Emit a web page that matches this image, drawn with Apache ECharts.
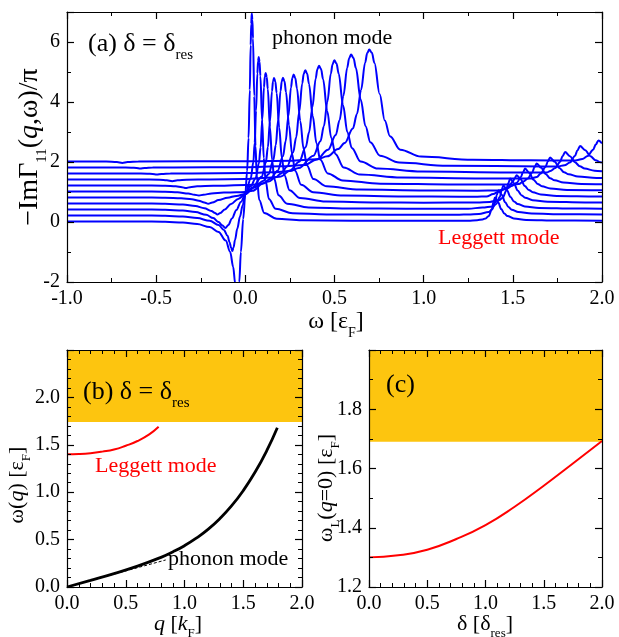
<!DOCTYPE html>
<html>
<head>
<meta charset="utf-8">
<script src="https://cdn.jsdelivr.net/npm/echarts@6/dist/echarts.min.js"></script>
<style>
html, body { margin: 0; padding: 0; background: #fff; }
#main { width: 619px; height: 637px; }
</style>
</head>
<body>
<div id="main"></div>
<script>
// panel (a): -Im Gamma11(q,w)/pi, one curve per q, offset by 0.2 each
var gam0 = [[-1,0.02],[-0.6,0.02],[-0.45,0.01],[-0.35,-0.02],[-0.27,-0.07],[-0.2,-0.17],[-0.15,-0.33],[-0.11,-0.62],[-0.085,-1.0],[-0.068,-1.5],[-0.057,-2.05],[-0.05,-2.6],[-0.045,-2.9],[-0.04,-2.6],[-0.034,-2.0],[-0.025,-1.0],[-0.012,0.1],[0,0.93],[0.01,1.7],[0.018,2.8],[0.025,4.4],[0.03,5.9],[0.033,6.6],[0.036,6.95],[0.0395,6.74],[0.043,6.12],[0.05,4.19],[0.057,2.53],[0.064,1.56],[0.078,0.73],[0.106,0.3],[0.176,0.108],[0.316,0.057],[0.6,0.045],[1.0,0.04],[1.25,0.045],[1.3,0.06],[1.33,0.086],[1.3475,0.12],[1.365,0.2],[1.3825,0.43],[1.391,0.66],[1.4,0.82],[1.4175,0.66],[1.435,0.43],[1.4525,0.28],[1.47,0.2],[1.505,0.12],[1.575,0.07],[1.75,0.048],[2.0,0.04]];
var gam1 = [[-1,0.22],[-0.6,0.22],[-0.45,0.21],[-0.35,0.18],[-0.27,0.13],[-0.2,0.04],[-0.15,-0.1],[-0.12,-0.27],[-0.1,-0.46],[-0.088,-0.68],[-0.08,-0.85],[-0.073,-0.97],[-0.066,-0.85],[-0.058,-0.6],[-0.045,-0.22],[-0.03,0.18],[-0.015,0.56],[0,0.93],[0.03,1.44],[0.045,2.0],[0.0525,2.64],[0.06,3.71],[0.0675,4.95],[0.07125,5.36],[0.075,5.5],[0.07975,5.34],[0.0845,4.87],[0.094,3.4],[0.1035,2.13],[0.113,1.4],[0.132,0.77],[0.17,0.44],[0.265,0.29],[0.455,0.253],[0.8,0.245],[1.2,0.245],[1.25,0.252],[1.31,0.27],[1.3645,0.33],[1.383,0.41],[1.4015,0.655],[1.41,0.9],[1.42,1.06],[1.4385,0.9],[1.457,0.655],[1.4755,0.5],[1.494,0.41],[1.531,0.33],[1.605,0.28],[1.79,0.258],[2.0,0.254]];
var gam2 = [[-1,0.42],[-0.6,0.42],[-0.45,0.41],[-0.35,0.38],[-0.28,0.33],[-0.22,0.24],[-0.18,0.13],[-0.15,0.0],[-0.13,-0.11],[-0.112,-0.2],[-0.095,-0.1],[-0.075,0.12],[-0.05,0.4],[-0.025,0.67],[0,0.93],[0.03,1.19],[0.057,1.45],[0.076,1.95],[0.0855,2.49],[0.095,3.42],[0.1045,4.49],[0.10925,4.85],[0.114,4.97],[0.12,4.83],[0.126,4.43],[0.138,3.16],[0.15,2.07],[0.162,1.44],[0.186,0.89],[0.234,0.61],[0.354,0.485],[0.594,0.45],[0.9,0.445],[1.25,0.445],[1.33,0.48],[1.387,0.52],[1.407,0.6],[1.427,0.83],[1.437,1.06],[1.447,1.22],[1.467,1.06],[1.487,0.83],[1.507,0.68],[1.527,0.6],[1.567,0.52],[1.647,0.47],[1.847,0.448],[2.0,0.445]];
var gam3 = [[-1,0.62],[-0.6,0.62],[-0.45,0.61],[-0.35,0.58],[-0.28,0.53],[-0.23,0.46],[-0.19,0.37],[-0.17,0.3],[-0.157,0.25],[-0.14,0.3],[-0.115,0.42],[-0.08,0.6],[-0.04,0.77],[0,0.93],[0.04,1.15],[0.092,1.51],[0.115,1.98],[0.1265,2.5],[0.138,3.36],[0.1495,4.36],[0.15525,4.69],[0.161,4.8],[0.1683,4.68],[0.1755,4.3],[0.19,3.14],[0.2045,2.14],[0.219,1.56],[0.248,1.06],[0.306,0.8],[0.451,0.68],[0.741,0.65],[1.0,0.645],[1.3,0.65],[1.37,0.67],[1.422,0.725],[1.443,0.81],[1.464,1.05],[1.4745,1.29],[1.485,1.45],[1.506,1.29],[1.527,1.05],[1.548,0.895],[1.569,0.81],[1.611,0.725],[1.695,0.675],[1.905,0.653],[2.0,0.65]];
var gam4 = [[-1,0.82],[-0.6,0.82],[-0.45,0.81],[-0.36,0.79],[-0.3,0.76],[-0.26,0.71],[-0.23,0.65],[-0.208,0.61],[-0.185,0.65],[-0.15,0.73],[-0.1,0.81],[-0.05,0.87],[0,0.93],[0.05,1.15],[0.1,1.37],[0.13,1.59],[0.157,2.06],[0.1705,2.56],[0.184,3.4],[0.1975,4.37],[0.20425,4.69],[0.211,4.81],[0.2195,4.69],[0.228,4.33],[0.245,3.22],[0.262,2.27],[0.279,1.71],[0.313,1.24],[0.381,0.99],[0.551,0.88],[0.891,0.85],[1.2,0.845],[1.3,0.845],[1.352,0.85],[1.39,0.93],[1.42,1.01],[1.4545,1.1],[1.477,1.19],[1.4995,1.34],[1.511,1.47],[1.522,1.56],[1.5445,1.42],[1.567,1.2],[1.5895,1.07],[1.612,0.99],[1.657,0.92],[1.747,0.87],[1.972,0.852],[2.0,0.85]];
var gam5 = [[-1,1.02],[-0.6,1.02],[-0.45,1.01],[-0.38,0.99],[-0.32,0.95],[-0.285,0.91],[-0.26,0.88],[-0.235,0.91],[-0.19,0.95],[-0.12,0.98],[-0.05,0.99],[0,1.0],[0.04,1.04],[0.1,1.28],[0.14,1.44],[0.181,1.71],[0.211,2.19],[0.226,2.69],[0.241,3.52],[0.256,4.48],[0.2635,4.8],[0.271,4.92],[0.28025,4.8],[0.2895,4.45],[0.308,3.37],[0.3265,2.44],[0.345,1.89],[0.382,1.43],[0.456,1.19],[0.641,1.08],[1.011,1.05],[1.3,1.045],[1.42,1.05],[1.46,1.1],[1.4985,1.21],[1.522,1.31],[1.5455,1.5],[1.557,1.66],[1.569,1.78],[1.5925,1.63],[1.616,1.41],[1.6395,1.27],[1.663,1.19],[1.71,1.12],[1.804,1.07],[2.0,1.055]];
var gam6 = [[-1,1.22],[-0.6,1.22],[-0.45,1.21],[-0.39,1.19],[-0.355,1.16],[-0.334,1.13],[-0.31,1.16],[-0.27,1.19],[-0.18,1.21],[0,1.23],[0.08,1.26],[0.13,1.35],[0.17,1.49],[0.2,1.62],[0.234,1.85],[0.268,2.32],[0.285,2.82],[0.302,3.66],[0.319,4.62],[0.3275,4.94],[0.336,5.06],[0.3465,4.95],[0.357,4.6],[0.378,3.53],[0.399,2.62],[0.42,2.08],[0.462,1.62],[0.546,1.385],[0.756,1.278],[1.176,1.25],[1.5,1.25],[1.534,1.265],[1.559,1.35],[1.584,1.45],[1.609,1.65],[1.6215,1.83],[1.634,1.95],[1.659,1.81],[1.684,1.6],[1.709,1.46],[1.734,1.39],[1.784,1.315],[1.884,1.27],[2.0,1.26]];
var gam7 = [[-1,1.42],[-0.6,1.42],[-0.48,1.41],[-0.44,1.39],[-0.41,1.36],[-0.38,1.39],[-0.33,1.41],[-0.2,1.42],[0,1.43],[0.15,1.48],[0.2,1.52],[0.25,1.72],[0.302,2.01],[0.339,2.5],[0.3575,2.99],[0.376,3.82],[0.3945,4.78],[0.40375,5.09],[0.413,5.21],[0.4245,5.1],[0.436,4.76],[0.459,3.7],[0.482,2.8],[0.505,2.27],[0.551,1.82],[0.643,1.58],[0.873,1.48],[1.333,1.45],[1.6,1.447],[1.635,1.5],[1.657,1.62],[1.683,1.83],[1.696,2.02],[1.709,2.15],[1.735,2.01],[1.761,1.8],[1.787,1.66],[1.813,1.59],[1.865,1.515],[1.969,1.47],[2.0,1.465]];
var gam8 = [[-1,1.62],[-0.62,1.62],[-0.55,1.61],[-0.52,1.6],[-0.497,1.58],[-0.47,1.6],[-0.42,1.615],[-0.3,1.62],[0,1.63],[0.15,1.655],[0.25,1.7],[0.3,1.8],[0.382,2.21],[0.421,2.69],[0.4405,3.19],[0.46,4.01],[0.4795,4.95],[0.48925,5.26],[0.499,5.39],[0.51125,5.28],[0.5235,4.94],[0.548,3.89],[0.5725,2.99],[0.597,2.47],[0.646,2.015],[0.744,1.78],[0.989,1.68],[1.479,1.65],[1.69,1.65],[1.7105,1.7],[1.738,1.8],[1.7655,2.01],[1.779,2.2],[1.793,2.33],[1.8205,2.19],[1.848,1.99],[1.8755,1.86],[1.903,1.78],[1.958,1.71],[2.0,1.69]];
var gam9 = [[-1,1.82],[-0.7,1.82],[-0.64,1.81],[-0.61,1.8],[-0.59,1.78],[-0.565,1.8],[-0.52,1.815],[-0.4,1.82],[0,1.825],[0.2,1.855],[0.33,1.9],[0.4,2.08],[0.464,2.41],[0.507,2.9],[0.5285,3.39],[0.55,4.21],[0.5715,5.15],[0.58225,5.46],[0.593,5.58],[0.6065,5.47],[0.62,5.13],[0.647,4.08],[0.674,3.19],[0.701,2.66],[0.755,2.21],[0.863,1.98],[1.133,1.877],[1.673,1.85],[1.75,1.852],[1.79,1.89],[1.8195,1.98],[1.848,2.2],[1.8625,2.39],[1.877,2.53],[1.906,2.39],[1.935,2.19],[1.964,2.06],[1.993,1.99],[2.0,1.98]];
var gam10 = [[-1,2.02],[-0.78,2.02],[-0.72,2.0],[-0.69,1.97],[-0.66,2.0],[-0.6,2.02],[0,2.025],[0.25,2.045],[0.4,2.09],[0.46,2.19],[0.52,2.43],[0.557,2.63],[0.603,3.12],[0.626,3.6],[0.649,4.4],[0.672,5.32],[0.6835,5.63],[0.695,5.75],[0.7095,5.64],[0.724,5.3],[0.753,4.27],[0.782,3.38],[0.811,2.86],[0.869,2.41],[0.985,2.18],[1.275,2.077],[1.6,2.055],[1.85,2.052],[1.89,2.1],[1.92,2.2],[1.95,2.41],[1.965,2.58],[1.98,2.72],[2.0,2.62]];
var gamCurves = [gam0, gam1, gam2, gam3, gam4, gam5, gam6, gam7, gam8, gam9, gam10];

// panel (b): dispersions
var qLeg = [0, 0.1, 0.2, 0.3, 0.4, 0.5, 0.6, 0.7, 0.78];
var wLeg = [1.40, 1.403, 1.412, 1.428, 1.45, 1.49, 1.54, 1.61, 1.69];
var qPh = [0, 0.2, 0.4, 0.6, 0.8, 0.9, 1.0, 1.1, 1.2, 1.3, 1.4, 1.5, 1.6, 1.7, 1.79];
var wPh = [0, 0.07, 0.142, 0.22, 0.313, 0.37, 0.436, 0.515, 0.608, 0.721, 0.855, 1.017, 1.21, 1.438, 1.68];
var qLin = [0, 0.84];
var wLin = [0, 0.285];
var contB = [1.74, 2.5];

// panel (c): Leggett frequency vs detuning
var dDel = [0, 0.25, 0.5, 0.75, 1.0, 1.25, 1.5, 1.75, 2.0];
var wL0 = [1.30, 1.307, 1.326, 1.362, 1.409, 1.471, 1.542, 1.617, 1.693];
var contC = [1.69, 2.0];

var serif = 'Liberation Serif';
var gold = '#FDC50F';

function zip(a, b) {
    var out = [];
    for (var i = 0; i < a.length; i++) out.push([a[i], b[i]]);
    return out;
}

function fmt1(v) { return v.toFixed(1); }
function fmt0(v) { return v.toFixed(0); }

function axis(grid, pos, min, max, step, minorSplit, labels, fmt) {
    return {
        type: 'value', gridIndex: grid, position: pos,
        min: min, max: max, interval: step, z: 10,
        axisLine: { show: true, onZero: false, lineStyle: { color: '#000', width: 1.2 } },
        axisTick: { show: true, inside: true, length: 7, lineStyle: { color: '#000', width: 1.2 } },
        minorTick: { show: true, splitNumber: minorSplit, length: 4, lineStyle: { color: '#000', width: 1 } },
        splitLine: { show: false },
        axisLabel: {
            show: labels, color: '#000', fontFamily: serif, fontSize: 20,
            margin: 7, formatter: fmt, showMaxLabel: false
        }
    };
}

var xAxes = [
    axis(0, 'bottom', -1, 2, 0.5, 2, true, fmt1),
    axis(0, 'top', -1, 2, 0.5, 2, false, fmt1),
    axis(1, 'bottom', 0, 2, 0.5, 5, true, fmt1),
    axis(1, 'top', 0, 2, 0.5, 5, false, fmt1),
    axis(2, 'bottom', 0, 2, 0.5, 5, true, fmt1),
    axis(2, 'top', 0, 2, 0.5, 5, false, fmt1)
];
xAxes[0].axisLabel.showMaxLabel = true;
xAxes[2].axisLabel.showMaxLabel = true;
xAxes[4].axisLabel.showMaxLabel = true;

var yAxes = [
    axis(0, 'left', -2, 7, 2, 2, true, fmt0),
    axis(0, 'right', -2, 7, 2, 2, false, fmt0),
    axis(1, 'left', 0, 2.5, 0.5, 5, true, fmt1),
    axis(1, 'right', 0, 2.5, 0.5, 5, false, fmt1),
    axis(2, 'left', 1.2, 2.0, 0.2, 2, true, fmt1),
    axis(2, 'right', 1.2, 2.0, 0.2, 2, false, fmt1)
];

var series = [];
for (var i = 0; i < gamCurves.length; i++) {
    series.push({
        type: 'line', xAxisIndex: 0, yAxisIndex: 0,
        data: gamCurves[i], showSymbol: false, smooth: 0.35, smoothMonotone: 'x',
        lineStyle: { color: '#0000ff', width: 2 }, silent: true
    });
}
series.push({
    type: 'line', xAxisIndex: 2, yAxisIndex: 2, data: zip(qLeg, wLeg),
    showSymbol: false, smooth: true, lineStyle: { color: '#ff0000', width: 2 },
    markArea: {
        silent: true, itemStyle: { color: gold, opacity: 1 },
        data: [[{ xAxis: 0, yAxis: contB[0] }, { xAxis: 2, yAxis: contB[1] }]]
    }
});
series.push({
    type: 'line', xAxisIndex: 2, yAxisIndex: 2, data: zip(qLin, wLin),
    showSymbol: false, lineStyle: { color: '#000', width: 1, type: [3, 2] }
});
series.push({
    type: 'line', xAxisIndex: 2, yAxisIndex: 2, data: zip(qPh, wPh),
    showSymbol: false, smooth: 0.5, lineStyle: { color: '#000', width: 2.8 }
});
series.push({
    type: 'line', xAxisIndex: 4, yAxisIndex: 4, data: zip(dDel, wL0),
    showSymbol: false, smooth: true, lineStyle: { color: '#ff0000', width: 2 },
    markArea: {
        silent: true, itemStyle: { color: gold, opacity: 1 },
        data: [[{ xAxis: 0, yAxis: contC[0] }, { xAxis: 2, yAxis: contC[1] }]]
    }
});

function richSized(size, subSize, lh) {
    return {
        n: { fontFamily: serif, fontSize: size, lineHeight: lh, verticalAlign: 'middle' },
        i: { fontFamily: serif, fontSize: size, fontStyle: 'italic', lineHeight: lh, verticalAlign: 'middle' },
        s: { fontFamily: serif, fontSize: subSize, lineHeight: subSize, verticalAlign: 'bottom' }
    };
}

function label(x, y, text, opt) {
    opt = opt || {};
    return {
        type: 'text', x: x, y: y, rotation: opt.rot || 0, z: 100,
        style: {
            text: text, fill: opt.color || '#000',
            fontFamily: serif, fontSize: opt.size || 24,
            textAlign: opt.align || 'left', textVerticalAlign: 'middle',
            rich: opt.rich || richSized(24, 14, 36)
        }
    };
}

var option = {
    animation: false,
    backgroundColor: '#fff',
    grid: [
        { left: 67, top: 12, width: 535, height: 270 },
        { left: 67, top: 350, width: 235, height: 237 },
        { left: 369, top: 350, width: 233, height: 237 }
    ],
    xAxis: xAxes,
    yAxis: yAxes,
    series: series,
    graphic: [
        label(88, 44, '{n|(a) δ = δ}{s|res}', { rich: richSized(26, 15, 38) }),
        label(272, 38, '{n|phonon mode}', { rich: richSized(22, 13, 30) }),
        label(438, 238, '{n|Leggett mode}', { color: '#ff0000', rich: richSized(22, 13, 30) }),
        label(336, 322, '{n|ω [ε}{s|F}{n|]}', { align: 'center' }),
        label(30, 147, '{n|−ImΓ}{s|11}{n|(}{i|q}{n|,ω)/π}', { rot: Math.PI / 2, align: 'center', rich: richSized(28, 15, 40) }),
        label(83, 392, '{n|(b) δ = δ}{s|res}', { rich: richSized(26, 15, 38) }),
        label(95, 466, '{n|Leggett mode}', { color: '#ff0000', rich: richSized(22, 13, 30) }),
        label(168, 559, '{n|phonon mode}', { rich: richSized(22, 13, 30) }),
        label(17, 485, '{n|ω(}{i|q}{n|) [ε}{s|F}{n|]}', { rot: Math.PI / 2, align: 'center', rich: richSized(22, 13, 32) }),
        label(178, 624, '{i|q}{n| [}{i|k}{s|F}{n|]}', { align: 'center', rich: richSized(22, 13, 32) }),
        label(386, 385, '{n|(c)}', { rich: richSized(26, 15, 38) }),
        label(485, 624, '{n|δ [δ}{s|res}{n|]}', { align: 'center', rich: richSized(22, 13, 32) }),
        label(326, 488, '{n|ω}{s|L}{n|(}{i|q}{n|=0) [ε}{s|F}{n|]}', { rot: Math.PI / 2, align: 'center', rich: richSized(22, 13, 32) })
    ]
};

var chart = echarts.init(document.getElementById('main'), null, { renderer: 'canvas' });
chart.setOption(option);
</script>
</body>
</html>
